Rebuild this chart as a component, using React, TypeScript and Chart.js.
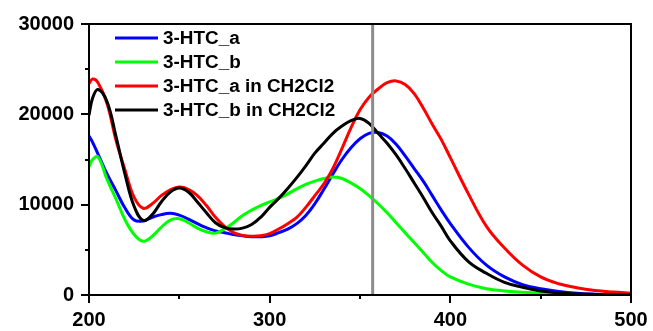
import React, { useEffect, useRef } from 'react';
import { Chart, registerables } from 'chart.js';

Chart.register(...registerables);

// Wavelength (nm)
const wavelengths = [200, 202, 205, 210, 215, 220, 225, 230, 235, 240, 245, 250, 255, 260, 265, 270, 275, 280, 285, 290, 295, 300, 305, 310, 315, 320, 325, 330, 335, 340, 345, 350, 355, 360, 365, 370, 375, 380, 385, 390, 395, 400, 410, 420, 430, 440, 450, 460, 470, 480, 490, 500];

// 3-HTC_a
const htcA = [17600, 16900, 15600, 13400, 11500, 9600, 8300, 8200, 8600, 8900, 9050, 8850, 8400, 7900, 7450, 7100, 6900, 6700, 6550, 6450, 6450, 6550, 6900, 7300, 7900, 8800, 10100, 11700, 13400, 15000, 16300, 17300, 17900, 18000, 17600, 16700, 15400, 14000, 12600, 11000, 9400, 7900, 5300, 3300, 2000, 1150, 700, 400, 200, 90, 30, 0];

// 3-HTC_b
const htcB = [14200, 15000, 15300, 12800, 10600, 8300, 6700, 5950, 6500, 7500, 8300, 8450, 8000, 7400, 7000, 6850, 7300, 8000, 8800, 9400, 9900, 10300, 10700, 11200, 11750, 12250, 12600, 12900, 13050, 12900, 12400, 11800, 11000, 10100, 9100, 8000, 6900, 5800, 4700, 3600, 2700, 2000, 1200, 700, 450, 300, 180, 100, 50, 20, 0, 0];

// 3-HTC_a in CH2Cl2
const htcAinDCM = [23400, 23900, 23500, 21200, 17100, 13800, 10800, 9600, 10100, 11000, 11650, 11950, 11700, 11000, 9900, 8600, 7600, 6900, 6600, 6500, 6550, 6800, 7300, 7900, 8600, 9700, 11000, 12300, 14000, 16200, 18500, 20500, 21900, 22800, 23500, 23700, 23300, 22300, 20700, 18900, 17200, 15200, 11200, 7600, 5200, 3300, 2000, 1250, 800, 500, 330, 200];

// 3-HTC_b in CH2Cl2
const htcBinDCM = [19900, 21800, 22750, 21400, 17500, 13300, 9800, 8250, 8900, 10300, 11400, 11850, 11400, 10300, 9100, 8000, 7450, 7300, 7400, 7800, 8600, 9700, 10700, 11800, 13000, 14300, 15700, 16800, 17900, 18700, 19300, 19550, 19000, 17900, 16800, 15500, 14000, 12400, 10800, 9100, 7600, 6000, 3700, 2400, 1400, 850, 450, 250, 120, 50, 20, 0];

const seriesLabels = ['3-HTC_a', '3-HTC_b', '3-HTC_a in CH2Cl2', '3-HTC_b in CH2Cl2'];
const seriesColors = ['#0000ff', '#00ff00', '#ff0000', '#000000'];
const seriesValues = [htcA, htcB, htcAinDCM, htcBinDCM];

// vertical marker line
const markerWavelength = [357, 357];
const markerValues = [0, 30000];

const xMin = 200;
const xMax = 500;
const yMin = 0;
const yMax = 30000;

const FONT = '"Liberation Sans", Arial, Helvetica, sans-serif';

const decorPlugin = {
  id: 'decor',
  afterDraw(chart: any) {
    const { ctx, chartArea: a, scales } = chart;
    ctx.save();
    ctx.strokeStyle = '#000';
    ctx.lineWidth = 2;
    ctx.strokeRect(a.left, a.top, a.right - a.left, a.bottom - a.top);
    ctx.beginPath();
    for (let v = yMin; v <= yMax; v += 5000) {
      const y = Math.round(scales.y.getPixelForValue(v));
      const len = v % 10000 === 0 ? 8 : 4;
      ctx.moveTo(a.left - len, y);
      ctx.lineTo(a.left, y);
    }
    for (let v = xMin; v <= xMax; v += 50) {
      const x = Math.round(scales.x.getPixelForValue(v));
      const len = v % 100 === 0 ? 8 : 4;
      ctx.moveTo(x, a.bottom);
      ctx.lineTo(x, a.bottom + len);
    }
    ctx.stroke();

    // legend
    ctx.font = `bold 18px ${FONT}`;
    ctx.textBaseline = 'middle';
    ctx.textAlign = 'left';
    for (let i = 0; i < seriesLabels.length; i++) {
      const y = a.top + 14 + i * 24;
      ctx.strokeStyle = seriesColors[i];
      ctx.lineWidth = 3;
      ctx.beginPath();
      ctx.moveTo(a.left + 26, y);
      ctx.lineTo(a.left + 69, y);
      ctx.stroke();
      ctx.fillStyle = '#000';
      ctx.save();
      ctx.translate(a.left + 74, y + 1);
      ctx.scale(1.05, 1);
      ctx.fillText(seriesLabels[i], 0, 0);
      ctx.restore();
    }
    ctx.restore();
  },
};

export default function App() {
  const ref = useRef<HTMLCanvasElement | null>(null);

  useEffect(() => {
    if (!ref.current) return;
    const datasets: any[] = seriesValues.map((vals, i) => ({
      label: seriesLabels[i],
      data: wavelengths.map((x, j) => ({ x, y: vals[j] })),
      borderColor: seriesColors[i],
      backgroundColor: seriesColors[i],
      borderWidth: 3,
      pointRadius: 0,
      tension: 0.4,
      fill: false,
      order: seriesLabels.length - i,
    }));
    datasets.push({
      label: 'marker',
      data: markerWavelength.map((x, j) => ({ x, y: markerValues[j] })),
      borderColor: '#8c8c8c',
      borderWidth: 3,
      pointRadius: 0,
      fill: false,
      order: -1,
    });

    const chart = new Chart(ref.current, {
      type: 'line',
      data: { datasets },
      options: {
        animation: false,
        responsive: false,
        maintainAspectRatio: false,
        devicePixelRatio: 1,
        layout: { padding: { top: 24, right: 0, left: 0, bottom: 0 } },
        plugins: {
          legend: { display: false },
          tooltip: { enabled: false },
        },
        scales: {
          x: {
            type: 'linear',
            min: xMin,
            max: xMax,
            border: { display: false },
            grid: { display: false, drawTicks: false },
            ticks: {
              stepSize: 100,
              color: '#000',
              padding: 13,
              maxRotation: 0,
              font: { family: FONT, size: 20, weight: 'bold' },
              callback: (v: any) => String(v),
            },
            afterFit: (s: any) => {
              s.height = 36;
              s.paddingLeft = 0;
              s.paddingRight = 22;
            },
          },
          y: {
            type: 'linear',
            min: yMin,
            max: yMax,
            border: { display: false },
            grid: { display: false, drawTicks: false },
            ticks: {
              stepSize: 10000,
              color: '#000',
              padding: 15,
              font: { family: FONT, size: 20, weight: 'bold' },
              callback: (v: any) => String(v),
            },
            afterFit: (s: any) => {
              s.width = 89;
              s.paddingTop = 0;
              s.paddingBottom = 0;
            },
          },
        },
      },
      plugins: [decorPlugin],
    });
    return () => chart.destroy();
  }, []);

  return (
    <div style={{ position: 'absolute', left: 0, top: 0, width: 653, height: 331, background: '#fff' }}>
      <canvas ref={ref} width={653} height={331} style={{ display: 'block' }} />
    </div>
  );
}
